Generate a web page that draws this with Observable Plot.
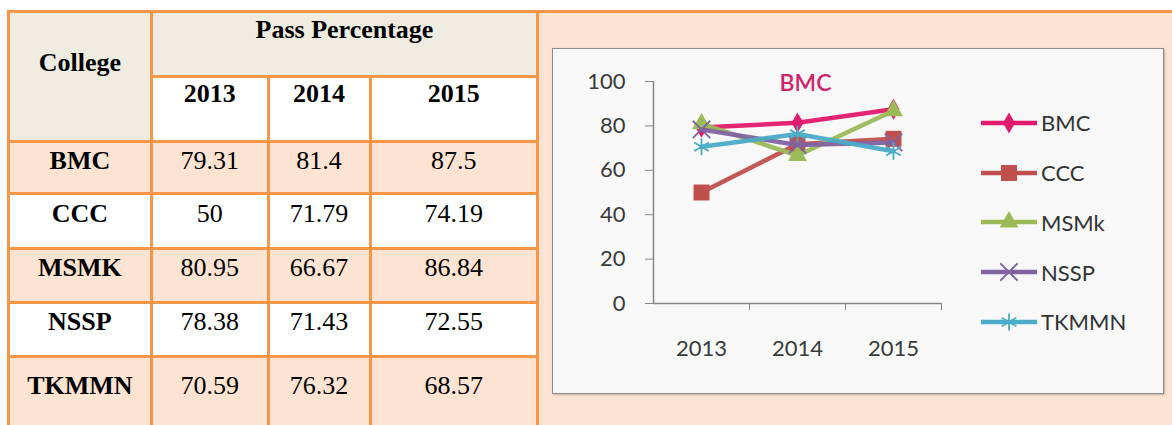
<!DOCTYPE html>
<html>
<head>
<meta charset="utf-8">
<script src="https://cdn.jsdelivr.net/npm/d3@7"></script>
<script src="https://cdn.jsdelivr.net/npm/@observablehq/plot@0.6"></script>
<style>
  html, body { margin: 0; padding: 0; background: #ffffff; }
  body { width: 1172px; height: 425px; overflow: hidden; position: relative; }
  .cell { position: absolute; box-sizing: border-box; text-align: center;
          font-family: "Liberation Serif", "Times New Roman", serif; font-size: 26px;
          line-height: 30px; color: #000; white-space: nowrap; }
  .bold { font-weight: bold; }
  #chartbox { position: absolute; left: 552px; top: 48px; width: 612px; height: 346px;
              box-sizing: border-box; border: 1.5px solid #8d8d8d; background: #f8f8f8;
              box-shadow: 1px 1px 2px rgba(0,0,0,0.25); }
  #plot { position: absolute; left: 553px; top: 49px; }
  #legend { position: absolute; left: 978px; top: 98px; font-family: Lato, "Open Sans", sans-serif;
            font-size: 22px; color: #333; }
  .litem { height: 49.75px; display: flex; align-items: center; }
  .litem svg { display: block; margin-right: 3px; }
</style>
</head>
<body>
<div id="root"></div>
<script>
// ---- data ----
const colleges = ["BMC", "CCC", "MSMK", "NSSP", "TKMMN"];
const seriesNames = ["BMC", "CCC", "MSMk", "NSSP", "TKMMN"];
const years = [2013, 2014, 2015];
const bmc = [79.31, 81.4, 87.5];
const ccc = [50, 71.79, 74.19];
const msmk = [80.95, 66.67, 86.84];
const nssp = [78.38, 71.43, 72.55];
const tkmmn = [70.59, 76.32, 68.57];
const values = [bmc, ccc, msmk, nssp, tkmmn];
const yTicks = [0, 20, 40, 60, 80, 100];
const tableTitle = "Pass Percentage";
const collegeHeader = "College";
const chartTitle = "BMC";

// ---- styles ----
const colors = ["#e01a6c", "#c0504d", "#9bbb59", "#8064a2", "#4bacc6"];
const symbols = ["diamond", "square", "triangle", "times", "asterisk"];
const symbolR = [6.3, 9, 7, 8, 8];
const orange = "#f79646", peach = "#fde4d2", tan = "#eeece1";

// ---- table layout ----
const root = document.getElementById("root");
const colX = [8.3, 151.5, 268, 370, 537.5];
const rowY = [11.5, 76, 141, 193, 248, 302, 356, 440];
const bw = 3;
const asc = 23.8;

const frame = document.createElement("div");
Object.assign(frame.style, {position: "absolute", left: (colX[0] - bw / 2) + "px", top: (rowY[0] - bw / 2) + "px",
  width: (1200 - colX[0]) + "px", height: (450 - rowY[0]) + "px", background: orange});
root.appendChild(frame);

function cell(x0, y0, x1, y1, bg, text, bold, baseline) {
  const d = document.createElement("div");
  d.className = "cell" + (bold ? " bold" : "");
  const top = y0 + bw / 2;
  Object.assign(d.style, {left: (x0 + bw / 2) + "px", top: top + "px",
    width: (x1 - x0 - bw) + "px", height: (y1 - y0 - bw) + "px", background: bg,
    paddingTop: (baseline != null ? baseline - top - asc : 0) + "px"});
  if (text != null) d.textContent = text;
  root.appendChild(d);
}
cell(colX[0], rowY[0], colX[1], rowY[2], tan, collegeHeader, true, 72);
cell(colX[1], rowY[0], colX[4], rowY[1], tan, tableTitle, true, 39);
years.forEach((y, j) => cell(colX[j + 1], rowY[1], colX[j + 2], rowY[2], "#ffffff", String(y), true, 103));
const baselines = [170, 223, 277, 331, 395];
colleges.forEach((c, i) => {
  const bg = i % 2 === 0 ? peach : "#ffffff";
  cell(colX[0], rowY[i + 2], colX[1], rowY[i + 3], bg, c, true, baselines[i]);
  values[i].forEach((v, j) => cell(colX[j + 1], rowY[i + 2], colX[j + 2], rowY[i + 3], bg, String(v), false, baselines[i]));
});
cell(colX[4], rowY[0], 1200, 450, peach, null, false, null);

// ---- chart ----
const box = document.createElement("div");
box.id = "chartbox";
root.appendChild(box);

const data = seriesNames.flatMap((s, i) => years.map((y, j) => ({series: s, year: y, value: values[i][j]})));
const axisColor = "#868686";
const textColor = "#3a3a3a";

const marks = [
  Plot.ruleX([years[0] - 0.5], {y1: yTicks[0], y2: yTicks[yTicks.length - 1], stroke: axisColor, strokeWidth: 1.5}),
  Plot.ruleY([0], {stroke: axisColor, strokeWidth: 1.5}),
  Plot.axisY({ticks: yTicks, tickSize: 8, tickPadding: 20, stroke: axisColor, fill: textColor, label: null, fontSize: 22}),
  Plot.axisX({ticks: years.map(y => y + 0.5), tickSize: 7, tickFormat: () => "", stroke: axisColor, label: null}),
  Plot.axisX({ticks: years, tickSize: 0, tickPadding: 37, tickFormat: d => String(d), fill: textColor, label: null, fontSize: 22})
];
seriesNames.forEach((s, i) => {
  const sd = data.filter(d => d.series === s);
  marks.push(Plot.line(sd, {x: "year", y: "value", stroke: "series", strokeWidth: 4.5, strokeOpacity: 0.95}));
  const stroked = symbols[i] === "times" || symbols[i] === "asterisk";
  marks.push(Plot.dot(sd, {x: "year", y: "value", symbol: "series", r: symbolR[i],
    fill: stroked ? "none" : "series", stroke: stroked ? "series" : "none", strokeWidth: stroked ? 1.8 : 0}));
});
marks.push(Plot.text([chartTitle], {frameAnchor: "top", dx: 8, dy: 2, lineAnchor: "middle", text: d => d,
  fill: "#d0246a", fontSize: 23, fontWeight: 600}));

const chart = Plot.plot({
  width: 610, height: 345,
  marginLeft: 100, marginTop: 32, marginBottom: 91, marginRight: 222,
  style: {background: "transparent", fontFamily: "Lato, 'Open Sans', sans-serif", fontSize: "22px", color: textColor, overflow: "visible"},
  x: {domain: [years[0] - 0.5, years[years.length - 1] + 0.5], label: null},
  y: {domain: [yTicks[0], yTicks[yTicks.length - 1]], label: null},
  color: {domain: seriesNames, range: colors},
  symbol: {domain: seriesNames, range: symbols},
  marks
});
chart.id = "plot";
root.appendChild(chart);

// ---- legend ----
const d3sym = {diamond: d3.symbolDiamond, square: d3.symbolSquare, triangle: d3.symbolTriangle, times: d3.symbolTimes, asterisk: d3.symbolAsterisk};
const legend = document.createElement("div");
legend.id = "legend";
seriesNames.forEach((s, i) => {
  const item = document.createElement("div");
  item.className = "litem";
  const svg = d3.create("svg").attr("width", 60).attr("height", 26);
  svg.append("line").attr("x1", 3).attr("x2", 59).attr("y1", 13).attr("y2", 13)
    .attr("stroke", colors[i]).attr("stroke-width", 4.5);
  const stroked = symbols[i] === "times" || symbols[i] === "asterisk";
  svg.append("path").attr("transform", "translate(31,13)")
    .attr("d", d3.symbol(d3sym[symbols[i]], symbolR[i] * symbolR[i] * Math.PI)())
    .attr("fill", stroked ? "none" : colors[i]).attr("stroke", stroked ? colors[i] : "none").attr("stroke-width", 1.8);
  item.appendChild(svg.node());
  const t = document.createElement("span");
  t.textContent = s;
  item.appendChild(t);
  legend.appendChild(item);
});
root.appendChild(legend);
</script>
</body>
</html>
